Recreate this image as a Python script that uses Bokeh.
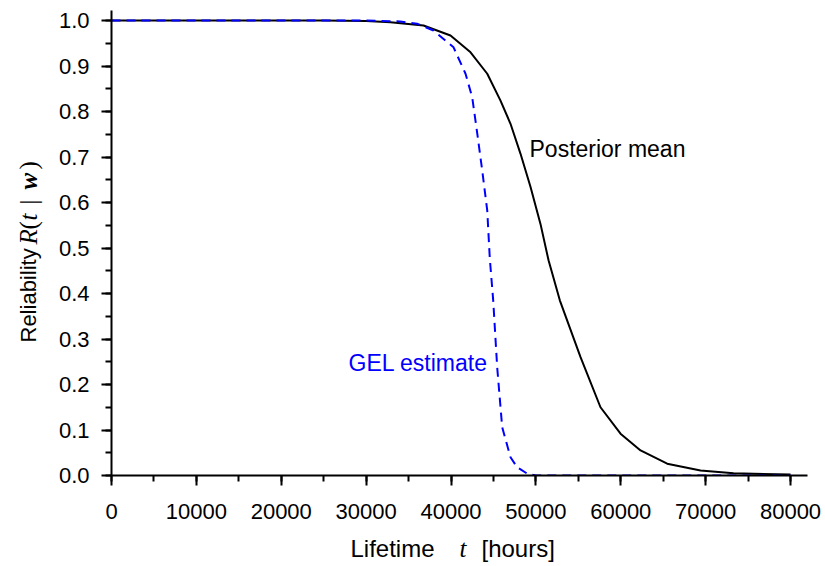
import numpy as np
from bokeh.plotting import figure
from bokeh.layouts import row, column
from bokeh.models import Range1d, SingleIntervalTicker, Label, NumeralTickFormatter
from bokeh.core.properties import value
from bokeh.embed import file_html
from bokeh.resources import INLINE

# Posterior mean reliability curve
post_t = [0, 25000, 30000, 32870, 36760, 39940, 42300, 44270, 45830, 47010, 48190,
          49370, 50540, 51490, 52820, 55260, 57610, 59970, 62330, 65470, 69400,
          73290, 80000]
post_r = [1.0, 1.0, 0.999, 0.996, 0.989, 0.967, 0.930, 0.883, 0.824, 0.773, 0.707,
          0.634, 0.553, 0.473, 0.385, 0.260, 0.150, 0.092, 0.055, 0.026, 0.011,
          0.005, 0.002]

# GEL estimate curve
gel_t = [0, 30000, 34000, 36000, 37940, 40300, 41710, 42500, 43090, 43680, 44270,
         44570, 44970, 45440, 46030, 47010, 47800, 48980, 50000, 80000]
gel_r = [1.0, 1.0, 0.998, 0.993, 0.978, 0.941, 0.883, 0.831, 0.752, 0.670, 0.582,
         0.477, 0.385, 0.238, 0.106, 0.040, 0.018, 0.004, 0.0, 0.0]

x_max = 82000
y_max = 1.022

W, H = 825, 566
YL_W = 50          # width of the y-label strip
XL_H = 36          # height of the x-label strip
MW, MH = W - YL_W, H - XL_H
BL, BR, BT, BB = 111 - YL_W, 18, 10, 91 - XL_H
SHIFT = 8          # texts draw this much below the requested baseline

p = figure(width=MW, height=MH, output_backend="svg", toolbar_location=None,
           title=None,
           x_range=Range1d(0, x_max), y_range=Range1d(0, y_max),
           min_border_left=BL, min_border_right=BR, min_border_top=BT,
           min_border_bottom=BB)
p.outline_line_color = None
p.xgrid.visible = False
p.ygrid.visible = False

p.xaxis.ticker = SingleIntervalTicker(interval=10000, num_minor_ticks=2)
p.yaxis.ticker = SingleIntervalTicker(interval=0.1, num_minor_ticks=2)
p.xaxis.formatter = NumeralTickFormatter(format="0")
p.yaxis.formatter = NumeralTickFormatter(format="0.0")

for ax in (p.xaxis, p.yaxis):
    ax.axis_line_width = 2
    ax.axis_line_color = "black"
    ax.major_tick_line_width = 2
    ax.minor_tick_line_width = 2
    ax.major_tick_line_color = "black"
    ax.minor_tick_line_color = "black"
    ax.major_tick_in = 0
    ax.major_tick_out = 10
    ax.minor_tick_in = 0
    ax.minor_tick_out = 6
    ax.major_label_text_font = "Liberation Sans"
    ax.major_label_text_font_size = "22px"
    ax.major_label_text_color = "black"
p.xaxis.major_label_standoff = 18
p.yaxis.major_label_standoff = 12

p.line(post_t, post_r, line_color="black", line_width=2)
p.line(gel_t, gel_r, line_color="#0000ff", line_width=2, line_dash="9 6")

fw = MW - BL - BR
fh = MH - BT - BB

def dx(px):
    return (px - 111) / fw * x_max

def dy(py):
    return (475 - py) / fh * y_max

p.add_layout(Label(x=dx(529), y=dy(156 - SHIFT), text="Posterior mean",
                   text_font="Liberation Sans", text_font_size="23px",
                   text_color="black", text_baseline="alphabetic"))
p.add_layout(Label(x=dx(348), y=dy(370 - SHIFT), text="GEL estimate",
                   text_font="Liberation Sans", text_font_size="23px",
                   text_color="#0000ff", text_baseline="alphabetic"))

def strip(w, h, xr, yr, bl, br, bt, bb):
    # ranges are given in page pixels; reversed y range so y == page row
    f = figure(width=w, height=h, output_backend="svg",
               toolbar_location=None, title=None,
               x_range=Range1d(*xr), y_range=Range1d(*yr),
               min_border=0, min_border_left=bl, min_border_right=br,
               min_border_top=bt, min_border_bottom=bb,
               x_axis_type=None, y_axis_type=None)
    f.outline_line_color = None
    f.xgrid.visible = False
    f.ygrid.visible = False
    return f

def put(f, x, y, text, font="Liberation Sans", size="22px", style="normal", angle=0.0):
    f.text(x=[x], y=[y], text=[text], text_font=value(font),
           text_font_size=value(size), text_font_style=style,
           text_color="black", text_align="left", text_baseline="alphabetic",
           angle=angle)

# x-axis label strip: same left/right borders as the main plot
xl = strip(MW, XL_H, (111, W - BR), (H, H - XL_H), BL, BR, 0, 0)
xb = 556 - SHIFT
put(xl, 350, xb, "Lifetime", size="24px")
put(xl, 459, xb, "t", font="Liberation Serif", size="25px", style="italic")
put(xl, 481, xb, "[hours]", size="24px")

# y-axis label strip (rotated text), same top border as the main plot
yl = strip(YL_W, H, (0, YL_W), (H, BT), 0, 0, BT, 0)
ang = np.pi / 2
bx = 36 - SHIFT
serif = "Liberation Serif"
put(yl, bx, 342, "Reliability", angle=ang)
put(yl, bx, 244, "R", font=serif, size="25px", style="italic", angle=ang)
put(yl, bx, 229, "(", font=serif, size="25px", angle=ang)
put(yl, bx, 220, "t", font=serif, size="25px", style="italic", angle=ang)
put(yl, bx, 204, "|", font=serif, size="25px", angle=ang)
put(yl, bx, 189, "w", font=serif, size="25px", style="bold italic", angle=ang)
put(yl, bx, 169, ")", font=serif, size="25px", angle=ang)

layout = row(yl, column(p, xl))
open("out.html", "w").write(file_html(layout, INLINE))
